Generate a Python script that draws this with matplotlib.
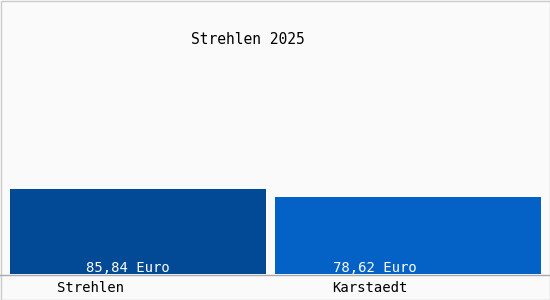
import matplotlib
matplotlib.use("Agg")
import matplotlib.pyplot as plt
from matplotlib.patches import Rectangle

title = "Strehlen 2025"
categories = ["Strehlen", "Karstaedt"]
values = [85.84, 78.62]
value_labels = ["85,84 Euro", "78,62 Euro"]
colors = ["#024a96", "#0462c6"]

W, H = 550, 300
fig = plt.figure(figsize=(W / 100, H / 100), dpi=100)
fig.patch.set_facecolor("#fafafa")

# axes: baseline at pixel y=274, top at pixel 0
base_px = 274
ax = fig.add_axes([0, (H - base_px) / H, 1, base_px / H])
ax.set_facecolor("#fafafa")
unit = 270.0  # px per category step
c0 = 138.0    # px centre of first bar
ax.set_xlim(-c0 / unit, (W - c0) / unit)
px_per_val = 0.985
ax.set_ylim(0, base_px / px_per_val)
for s in ax.spines.values():
    s.set_visible(False)
ax.set_xticks([])
ax.set_yticks([])

widths = [256 / unit, 266 / unit]
xs = list(range(len(categories)))
ax.bar(xs, values, width=widths, color=colors, linewidth=0)

font = "DejaVu Sans Mono"
val_off = [-10 / unit, -33 / unit]
lab_off = [-47 / unit, -38 / unit]
for i, (v, lab) in enumerate(zip(value_labels, categories)):
    ax.text(xs[i] + val_off[i], 6.5 / px_per_val, v, color="white",
            ha="center", va="center", family=font, fontsize=10)
    ax.text(xs[i] + lab_off[i], -14 / px_per_val, lab, color="black",
            ha="center", va="center", family=font, fontsize=10, clip_on=False)

# baseline
fig.add_artist(plt.Line2D([0, 1], [(H - 274.5) / H] * 2, color="#aaaaaa", lw=1))

fig.text(248 / W, 1 - 40 / H, title, ha="center", va="center",
         family=font, fontsize=10.5, color="black")

# border
fig.add_artist(Rectangle((0.5 / W, 0.5 / H), (W - 1) / W, (H - 1) / H,
                         transform=fig.transFigure, fill=False,
                         edgecolor="#cccccc", lw=1))

fig.savefig("out.png", dpi=100, facecolor=fig.get_facecolor())
